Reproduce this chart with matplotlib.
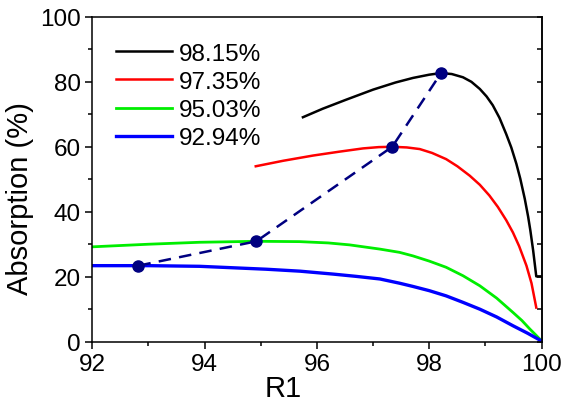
import matplotlib
matplotlib.use("Agg")
import matplotlib.pyplot as plt
from matplotlib.ticker import MultipleLocator

plt.rcParams['font.family'] = ['Liberation Sans', 'DejaVu Sans']

# absorption vs R1 for four values of R2
labels = ['98.15%', '97.35%', '95.03%', '92.94%']
colors = ['black', 'red', '#00ee00', 'blue']

black_x = [95.75, 96.1, 96.52, 97.0, 97.4, 97.71, 98.0, 98.21, 98.4, 98.6,
           98.75, 98.9, 99.02, 99.13, 99.25, 99.37, 99.46, 99.55, 99.62, 99.7,
           99.76, 99.8, 99.85, 99.905, 100.0]
black_y = [69.1, 71.7, 74.5, 77.6, 79.8, 81.2, 82.2, 82.7, 82.4, 81.4,
           80.0, 77.8, 75.5, 72.8, 68.9, 63.9, 59.8, 54.8, 50.2, 44.0,
           38.5, 34.2, 28.0, 20.1, 20.1]

red_x = [94.91, 95.4, 95.93, 96.4, 96.82, 97.1, 97.34, 97.6, 97.83, 98.05,
         98.3, 98.5, 98.72, 98.9, 99.07, 99.22, 99.37, 99.49, 99.6, 99.73,
         99.82, 99.905]
red_y = [54.0, 55.7, 57.3, 58.5, 59.5, 59.9, 60.0, 59.8, 59.3, 58.1,
         56.2, 54.0, 51.1, 48.3, 45.0, 41.5, 37.4, 33.6, 29.4, 23.4,
         18.0, 10.5]

green_x = [92.0, 93.0, 93.91, 94.92, 95.69, 96.2, 96.58, 97.12, 97.47, 97.71,
           98.0, 98.3, 98.6, 98.9, 99.2, 99.49, 99.65, 99.79, 99.9, 100.0]
green_y = [29.2, 30.0, 30.6, 30.9, 30.8, 30.4, 29.8, 28.5, 27.5, 26.4,
           24.8, 22.9, 20.3, 17.2, 13.4, 9.0, 6.5, 3.9, 2.0, 0.2]

blue_x = [92.0, 93.0, 93.91, 95.1, 95.7, 96.29, 96.7, 97.12, 97.47, 97.71,
          98.0, 98.3, 98.6, 98.9, 99.2, 99.49, 99.75, 100.0]
blue_y = [23.4, 23.4, 23.2, 22.3, 21.7, 20.8, 20.1, 19.3, 18.0, 17.0,
          15.7, 14.1, 12.1, 10.0, 7.6, 4.9, 2.6, 0.2]

# maxima of each curve
peak_x = [92.82, 94.92, 97.34, 98.21]
peak_y = [23.4, 30.9, 60.0, 82.7]

fig = plt.figure(figsize=(5.63, 4.06), dpi=100)
ax = fig.add_axes([0.164, 0.156, 0.798, 0.80])

curves = [(black_x, black_y), (red_x, red_y), (green_x, green_y), (blue_x, blue_y)]
widths = [1.8, 1.8, 2.0, 2.4]
for (xs, ys), c, lab, lw in zip(curves, colors, labels, widths):
    ax.plot(xs, ys, color=c, lw=lw, label=lab)

ax.plot(peak_x, peak_y, color='#000080', lw=1.8, ls=(0, (5, 3.3)),
        marker='o', ms=8, zorder=5)

ax.set_xlim(92, 100)
ax.set_ylim(0, 100)
ax.xaxis.set_major_locator(MultipleLocator(2))
ax.xaxis.set_minor_locator(MultipleLocator(1))
ax.yaxis.set_major_locator(MultipleLocator(20))
ax.yaxis.set_minor_locator(MultipleLocator(10))
ax.tick_params(which='both', direction='out', labelsize=17.5, width=1.1,
               top=False, right=False)
ax.tick_params(which='major', length=5)
ax.tick_params(which='minor', length=3)
for s in ax.spines.values():
    s.set_linewidth(1.1)

# inward ticks on the right side, no labels
sec = ax.secondary_yaxis('right')
sec.yaxis.set_major_locator(MultipleLocator(10))
sec.tick_params(direction='in', length=3.5, width=1.1, labelright=False)
sec.spines['right'].set_linewidth(1.1)

ax.set_xlabel('R1', fontsize=21)
ax.set_ylabel('Absorption (%)', fontsize=21)
ax.xaxis.set_label_coords(0.424, -0.10)
ax.yaxis.set_label_coords(-0.13, 0.445)

ax.legend(loc='upper left', bbox_to_anchor=(0.02, 0.965), frameon=False,
          fontsize=17.5, handlelength=2.3, handletextpad=0.3, labelspacing=0.25,
          borderaxespad=0.2)

fig.savefig('out.png', dpi=100)
